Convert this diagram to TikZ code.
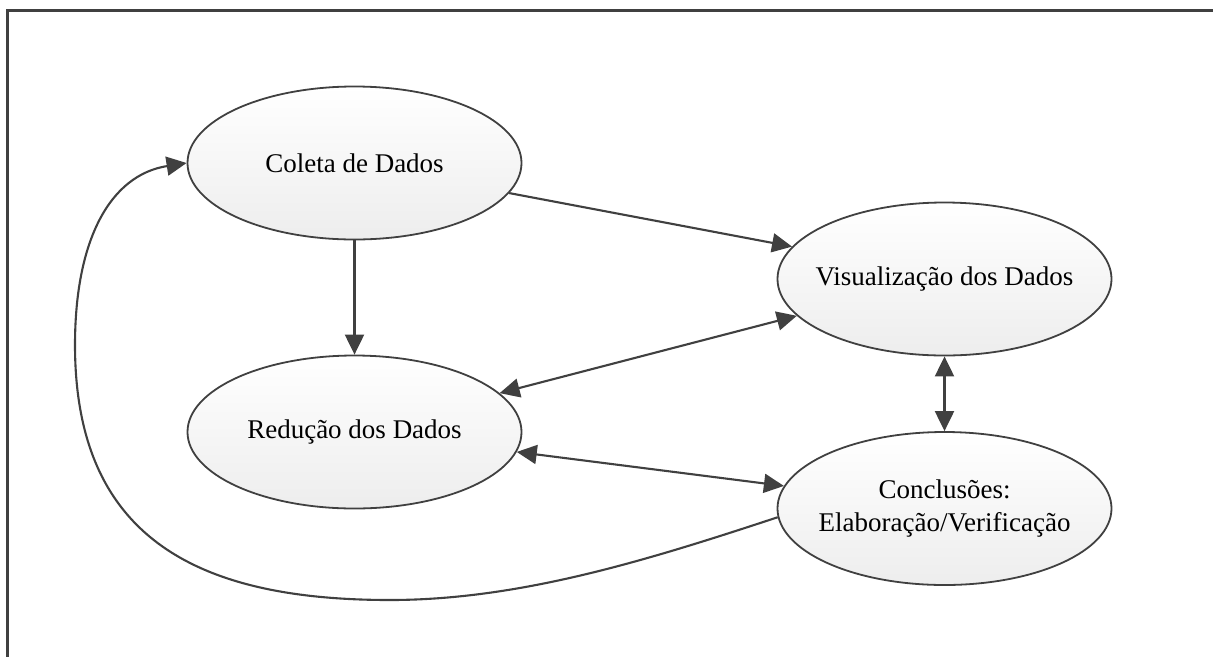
\documentclass[tikz,border=0pt]{standalone}
\usepackage{fontspec}
\setmainfont{Liberation Serif}
\usetikzlibrary{arrows.meta,shapes.geometric}
\definecolor{ink}{HTML}{404040}
\begin{document}
\begin{tikzpicture}[x=1pt,y=-1pt,
  >={Triangle[length=20pt,width=19pt]},
  stage/.style={ellipse, draw=ink, line width=1.8pt, minimum width=334pt,
    minimum height=153pt, inner sep=0pt, top color=white, bottom color=black!7},
  caption/.style={font=\fontsize{27}{33}\selectfont, align=center, text=black},
  link/.style={draw=ink, line width=2.1pt}]
\useasboundingbox (0,0) rectangle (1213,657);
% outer frame (top and left edges)
\draw[ink, line width=3pt] (1213,10) -- (7,10) -- (7,657);

% stages of the analysis
\node[stage, label={[caption]center:{Coleta de Dados}}] (coleta) at (354.5,163) {};
\node[stage, label={[caption]center:{Visualização dos Dados}}] (visual) at (944.5,279) {};
\node[stage, label={[caption]center:{Redução dos Dados}}] (reducao) at (354.5,432) {};
\node[stage, label={[caption]center:{Conclusões:\\Elaboração/Verificação}}] (conclu) at (944.5,508.5) {};

% connectors
\draw[link,->] (coleta.-11.6) -- (visual.168.6);
\draw[link,->] (coleta.south) -- (reducao.north);
\draw[link,<->] (reducao.15) -- (visual.-166);
\draw[link,<->] (reducao.-7.5) -- (conclu.172.8);
\draw[link,<->] (visual.south) -- (conclu.north);
\draw[link,->] (conclu.183) .. controls (648,560) and (520,600) .. (390,600)
  .. controls (200,600) and (75,540) .. (75,345)
  .. controls (75,240) and (110,175) .. (coleta.west);
\end{tikzpicture}
\end{document}
